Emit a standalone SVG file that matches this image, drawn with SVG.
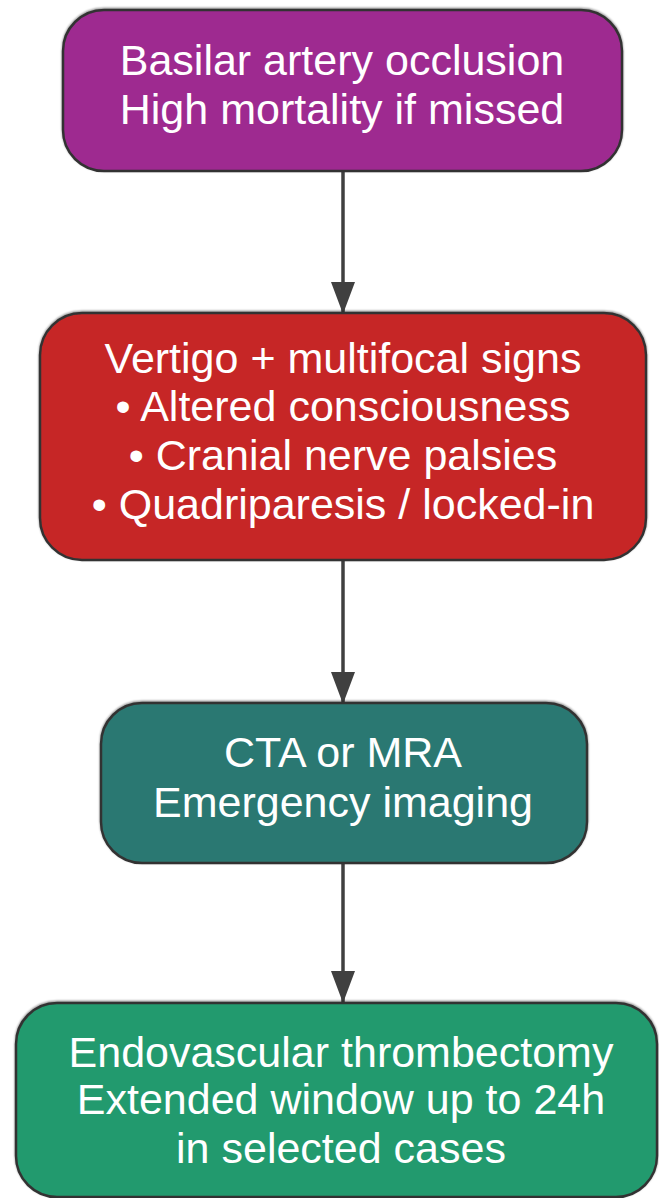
<svg xmlns="http://www.w3.org/2000/svg" width="659" height="1198" viewBox="0 0 659 1198">
  <defs>
    <filter id="halo" x="-5%" y="-5%" width="110%" height="110%">
      <feDropShadow dx="0" dy="-1" stdDeviation="1.2" flood-color="#000" flood-opacity="0.45"/>
    </filter>
    <marker id="arrow" markerUnits="userSpaceOnUse" viewBox="0 0 32 24" markerWidth="32" markerHeight="24" refX="32" refY="12" orient="auto">
      <path d="M0,0 L32,12 L0,24 Z" fill="#404040"/>
    </marker>
    <style>
      .box { stroke: #333; stroke-width: 2.5; filter: url(#halo); }
      .lbl { font-family: "Liberation Sans", Arial, sans-serif; font-size: 43px; fill: #fff; text-anchor: middle; }
      .edge { stroke: #404040; stroke-width: 3.5; fill: none; marker-end: url(#arrow); }
    </style>
  </defs>
  <rect width="659" height="1198" fill="#fff"/>

  <g id="connectors">
    <path class="edge" d="M343,171 L343,314"/>
    <path class="edge" d="M343,560 L343,704"/>
    <path class="edge" d="M343,863 L343,1003"/>
  </g>

  <g id="node-bao">
    <rect class="box" x="63" y="10" width="559" height="161" rx="41" ry="41" fill="#9E2A90"/>
    <text class="lbl" x="342" y="75">Basilar artery occlusion</text>
    <text class="lbl" x="342" y="124">High mortality if missed</text>
  </g>

  <g id="node-signs">
    <rect class="box" x="40" y="313" width="606" height="247" rx="42" ry="42" fill="#C62828"/>
    <text class="lbl" x="343" y="373">Vertigo + multifocal signs</text>
    <text class="lbl" x="343" y="421">• Altered consciousness</text>
    <text class="lbl" x="343" y="470">• Cranial nerve palsies</text>
    <text class="lbl" x="343" y="519">• Quadriparesis / locked-in</text>
  </g>

  <g id="node-imaging">
    <rect class="box" x="101" y="703" width="486" height="160" rx="41" ry="41" fill="#2C7872"/>
    <text class="lbl" x="343" y="767">CTA or MRA</text>
    <text class="lbl" x="343" y="817">Emergency imaging</text>
  </g>

  <g id="node-evt">
    <rect class="box" x="16" y="1003" width="641" height="194" rx="41" ry="41" fill="#229A6E"/>
    <text class="lbl" x="341" y="1067">Endovascular thrombectomy</text>
    <text class="lbl" x="341" y="1114">Extended window up to 24h</text>
    <text class="lbl" x="341" y="1163">in selected cases</text>
  </g>
</svg>
